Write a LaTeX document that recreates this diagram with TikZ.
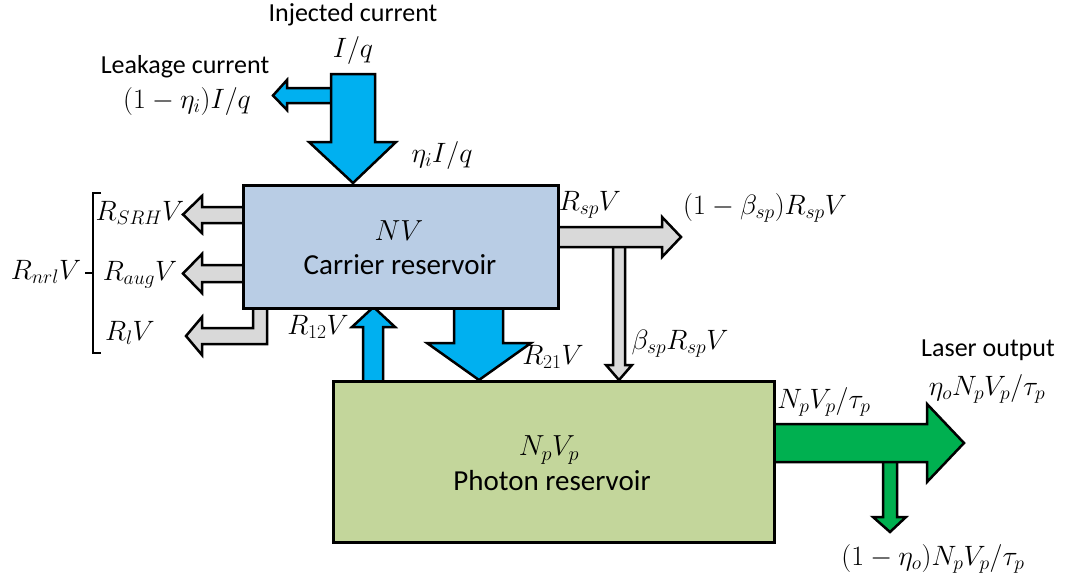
\RequirePackage{fix-cm}
\documentclass[tikz,border=0pt]{standalone}
\usepackage{fontspec}
\setmainfont{Carlito}
\definecolor{cblue}{HTML}{00B0F0}
\definecolor{cgray}{HTML}{D9D9D9}
\definecolor{cgreen}{HTML}{00B050}
\definecolor{carrierfill}{HTML}{B9CDE5}
\definecolor{photonfill}{HTML}{C3D69B}
\tikzset{
  blk/.style={draw=black, line width=2.5pt, line join=miter},
  bluearrow/.style={blk, fill=cblue},
  grayarrow/.style={blk, fill=cgray},
  greenarrow/.style={blk, fill=cgreen},
  reservoir/.style={draw=black, line width=3pt, anchor=north west, inner sep=0pt},
  lbl/.style={inner sep=0pt, font=\fontsize{26}{30}\selectfont},
  mlbl/.style={inner sep=0pt, font=\fontsize{28}{32}\selectfont},
  boxlbl/.style={inner sep=0pt, font=\fontsize{29}{33}\selectfont},
}
\begin{document}
\begin{tikzpicture}[x=1pt,y=-1pt]
\useasboundingbox (0,0) rectangle (1066,581);
% arrows drawn beneath the boxes
% leakage
\draw[bluearrow] (333,88) -- (287,88) -- (287,80) -- (273,95.5) -- (287,110) -- (287,103) -- (333,103) -- cycle;
% injected
\draw[bluearrow] (331,74) -- (375,74) -- (375,142) -- (396,142) -- (353,183) -- (309,142) -- (331,142) -- cycle;
% nonradiative
\draw[grayarrow] (246,207) -- (202,207) -- (202,196) -- (183,214.5) -- (202,233) -- (202,223) -- (246,223) -- cycle;
\draw[grayarrow] (246,265) -- (202,265) -- (202,254) -- (183,273.5) -- (202,293) -- (202,282) -- (246,282) -- cycle;
\draw[grayarrow] (253,303) -- (253,328) -- (202,328) -- (202,317) -- (186,336) -- (202,355) -- (202,344) -- (267,344) -- (267,303) -- cycle;
% spontaneous emission
\draw[grayarrow] (613,245) -- (613,365) -- (606,365) -- (619,380) -- (632,365) -- (625,365) -- (625,245) -- cycle;
\draw[grayarrow] (553,227) -- (662,227) -- (662,217) -- (681,237) -- (662,257) -- (662,247) -- (553,247) -- cycle;
% R12 and R21
\draw[bluearrow] (363,382) -- (363,327) -- (352,327) -- (373.5,307) -- (395,327) -- (383,327) -- (383,382) -- cycle;
\draw[bluearrow] (454,305) -- (454,343) -- (427,343) -- (479,380) -- (531,343) -- (503,343) -- (503,305) -- cycle;
% laser output
\draw[greenarrow] (883,460) -- (883,517) -- (873,517) -- (890,532) -- (906,517) -- (897,517) -- (897,460) -- cycle;
\draw[greenarrow] (771,424) -- (927,424) -- (927,404) -- (964,443) -- (927,482) -- (927,462) -- (771,462) -- cycle;

% boxes
\node[reservoir, fill=carrierfill, minimum width=315pt, minimum height=123pt] (car) at (242,184) {};
\node[reservoir, fill=photonfill, minimum width=441pt, minimum height=161pt] (pho) at (332,380) {};

% bracket
\coordinate (bt) at (101,193);
\coordinate (bb) at (101,353);
\draw[line width=2.5pt] (bt) -- (93,193) -- (93,353) -- (bb);
\draw[line width=2.5pt] (85,273) -- (93,273);

% labels
\node[lbl] (tinj) at (353,15) {Injected current};
\node[mlbl] (tiq) at (353,50) {$I/q$};
\node[lbl] (tleak) at (185,67) {Leakage current};
\node[mlbl] (tleakq) at (187,101) {$(1-\eta_i)I/q$};
\node[mlbl] (teta) at (442,155) {$\eta_i I/q$};
\node[boxlbl] (tnv) at (399,231) {$NV$};
\node[boxlbl] (tcar) at (400,265) {Carrier reservoir};
\node[mlbl] (tsrh) at (140,213) {$R_{SRH}V$};
\node[mlbl] (taug) at (140,275) {$R_{aug}V$};
\node[mlbl] (tl) at (130,333) {$R_lV$};
\node[mlbl] (tnrl) at (46,272) {$R_{nrl}V$};
\node[mlbl] (t12) at (318,327) {$R_{12}V$};
\node[mlbl] (t21) at (553,357) {$R_{21}V$};
\node[mlbl] (tsp) at (590,205) {$R_{sp}V$};
\node[mlbl] (tspo) at (765,208) {$(1-\beta_{sp})R_{sp}V$};
\node[mlbl] (tbsp) at (680,344) {$\beta_{sp}R_{sp}V$};
\node[boxlbl] (tnpvp) at (549,450) {$N_pV_p$};
\node[boxlbl] (tpho) at (552,481) {Photon reservoir};
\node[mlbl] (tnpt) at (824,402) {$N_pV_p/\tau_p$};
\node[lbl] (tlaser) at (988,350) {Laser output};
\node[mlbl] (tetao) at (987,389) {$\eta_oN_pV_p/\tau_p$};
\node[mlbl] (tloss) at (933,559) {$(1-\eta_o)N_pV_p/\tau_p$};
\end{tikzpicture}
\end{document}
